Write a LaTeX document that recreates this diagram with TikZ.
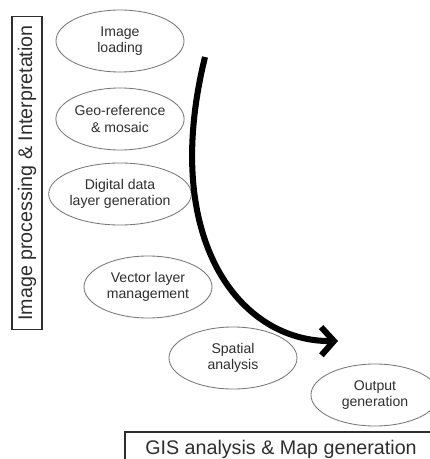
\documentclass[tikz,border=0pt]{standalone}
\usepackage{fontspec}
\setmainfont{Liberation Sans}
\usetikzlibrary{arrows.meta, shapes.geometric}

\definecolor{inkgray}{HTML}{2E2E2E}
\definecolor{rimgray}{HTML}{777777}

\tikzset{
  stage/.style={ellipse, draw=rimgray, line width=0.6pt, text=inkgray,
    minimum width=3.2cm, minimum height=1.55cm, inner sep=0pt,
    align=center, font=\fontsize{10}{11.5}\selectfont},
  phase/.style={draw=inkgray, line width=0.8pt, text=inkgray,
    inner sep=0pt, font=\fontsize{14}{16}\selectfont}
}

\begin{document}
\begin{tikzpicture}[x=0.025cm, y=-0.025cm]
    \useasboundingbox (0,0) rectangle (429,459);

    % phases
    \node[phase, rotate=90, minimum width=7.83cm, minimum height=0.75cm] (proc) at (27,173) {Image processing \& Interpretation};
    \node[phase, minimum width=7.8cm, minimum height=0.85cm] (gis) at (281,449) {GIS analysis \& Map generation};

    % stages
    \node[stage] (load) at (120,41) {Image\\loading};
    \node[stage] (geo) at (120,119) {Geo-reference\\\& mosaic};
    \node[stage] (layer) at (120,194) {Digital data\\layer generation};
    \node[stage] (vector) at (148,287) {Vector layer\\management};
    \node[stage] (spatial) at (233,358) {Spatial\\analysis};
    \node[stage] (output) at (375,395) {Output\\generation};

    % flow
    \coordinate (start) at (205,57);
    \coordinate (tip) at (338,341);
    \draw[line width=4.3pt, -{Straight Barb[length=9pt, width=20pt]}]
      (start) .. controls (160,240) and (240,342) .. (tip);
\end{tikzpicture}
\end{document}
